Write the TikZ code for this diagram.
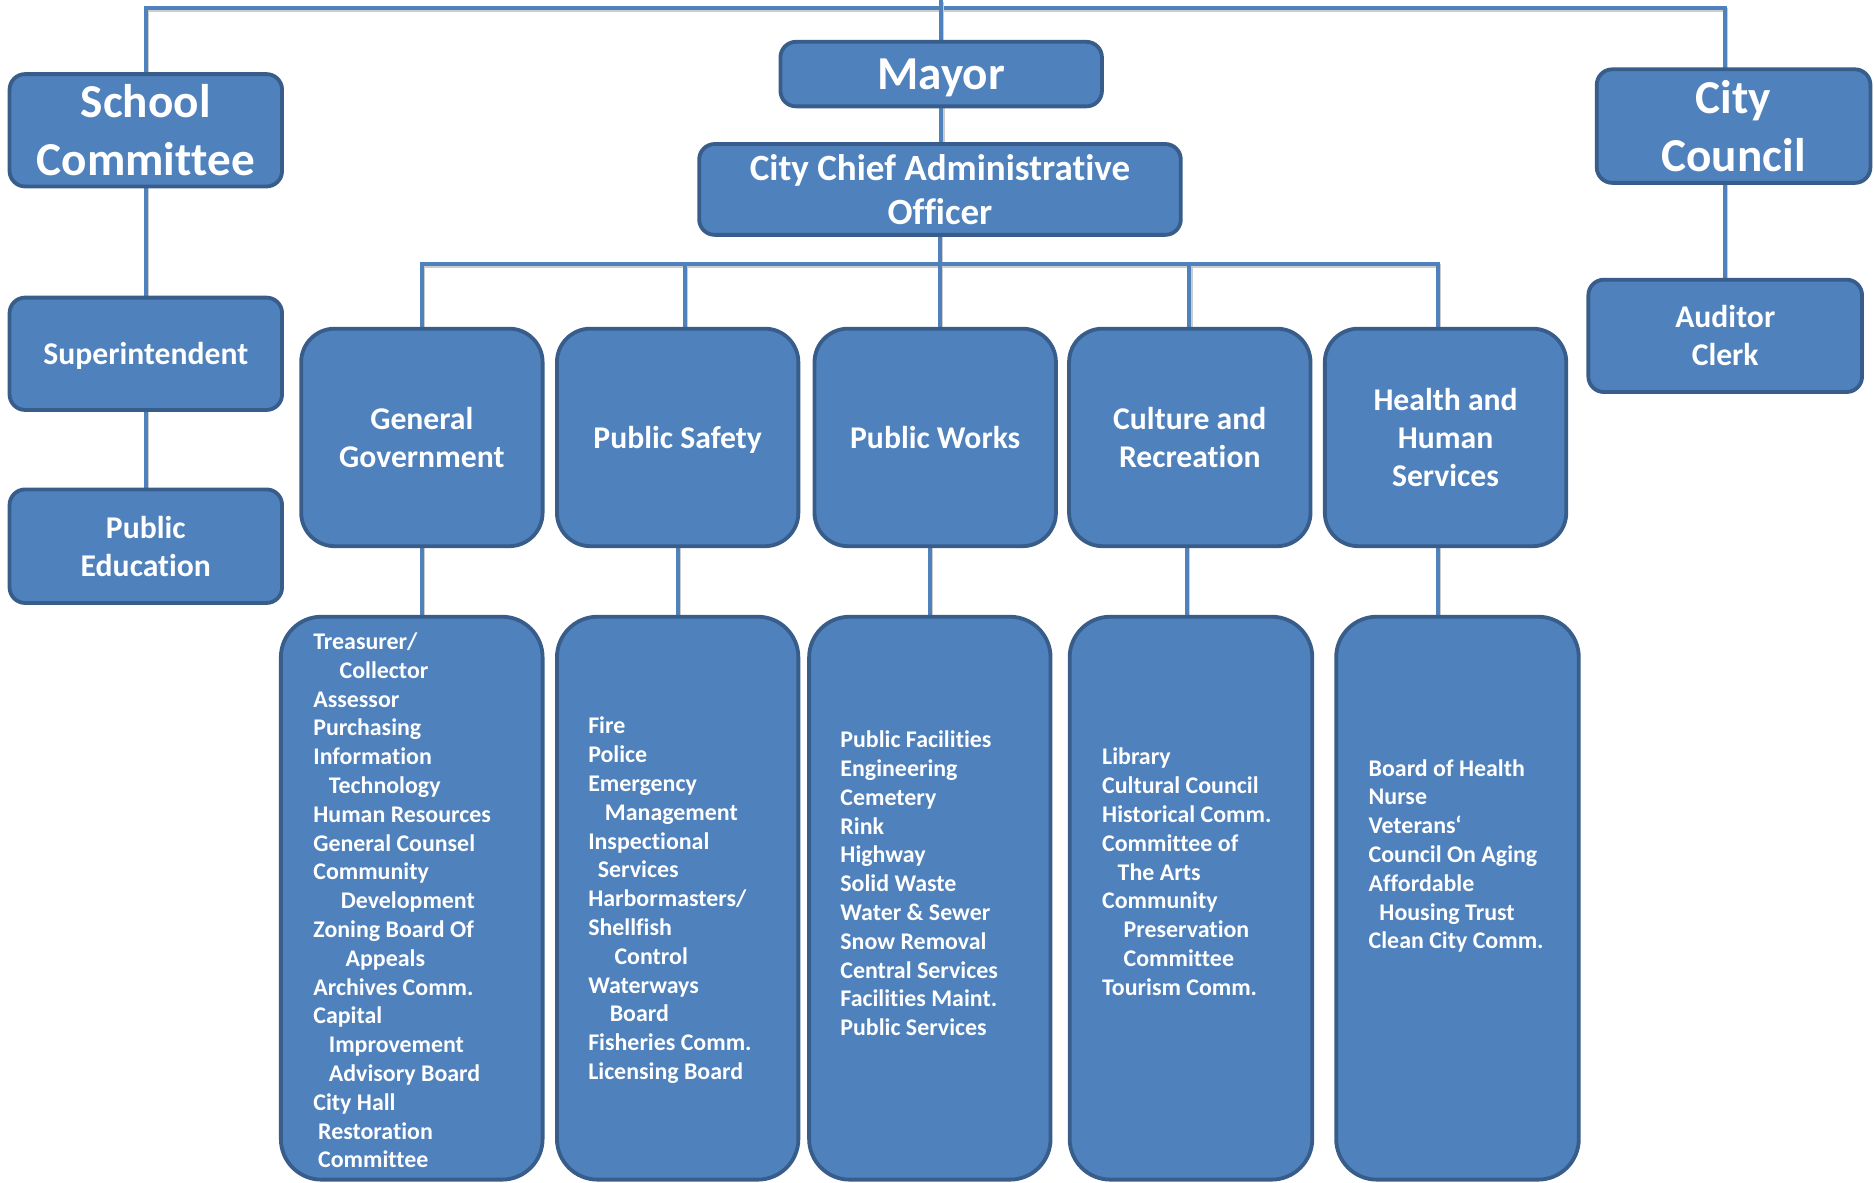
\documentclass[tikz,border=0pt]{standalone}
\usepackage{fontspec}
\setmainfont{Carlito}[Ligatures=NoCommon]
\definecolor{fillc}{HTML}{4F81BD}
\definecolor{bdr}{HTML}{385D8A}
\definecolor{linec}{HTML}{4F81BD}
\pgfdeclarelayer{bg}
\pgfsetlayers{bg,main}
\newcommand{\Lrow}[1]{\hbox{#1}}
\tikzset{
 box/.style={draw=bdr, fill=fillc, line width=3.2pt, text=white, align=center, inner sep=0pt, outer sep=0pt},
 bigbox/.style={box, rounded corners=13pt, font=\fontsize{39.5}{48}\selectfont\bfseries},
 midbox/.style={box, rounded corners=13pt, font=\fontsize{26.5}{32}\selectfont\bfseries},
 caobox/.style={box, rounded corners=13pt, font=\fontsize{31}{37}\selectfont\bfseries},
 catbox/.style={box, rounded corners=28pt, minimum width=202pt, minimum height=182pt, font=\fontsize{26.5}{32}\selectfont\bfseries},
 listbox/.style={box, rounded corners=34pt, minimum height=471pt},
 listtext/.style={text=white, font=\fontsize{20}{24.1}\selectfont\bfseries, inner sep=0pt, anchor=base west},
 conn/.style={draw=linec, line width=3.2pt, preaction={draw=black!20, line width=3.2pt, transform canvas={shift={(1.3pt,-1.3pt)}}}},
}
\begin{document}
\begin{tikzpicture}[x=1pt,y=-1pt]
\useasboundingbox (0,0) rectangle (1568,989);
% left column
\node[bigbox, minimum width=228pt, minimum height=94pt] (school) at (122,109) {School\\Committee};
\node[midbox, minimum width=228pt, minimum height=94pt, text depth=0pt] (supt) at (122,296) {Superintendent};
\node[midbox, minimum width=228pt, minimum height=95pt] (pubed) at (122,457) {Public\\Education};
% centre
\node[bigbox, minimum width=269pt, minimum height=54pt, text depth=0pt] (mayor) at (787.5,62) {Mayor};
\node[caobox, minimum width=403pt, minimum height=76pt] (cao) at (786.5,158.5) {City Chief Administrative\\Officer};
% right column
\node[bigbox, minimum width=229pt, minimum height=95pt] (council) at (1450.5,105.5) {City\\Council};
\node[midbox, minimum width=229pt, minimum height=94pt] (auditor) at (1443.5,281) {Auditor\\Clerk};
% categories
\node[catbox] (gg) at (353,366) {General\\Government};
\node[catbox, text depth=0pt] (ps) at (567,366) {Public Safety};
\node[catbox] (pw) at (782.5,366) {Public Works};
\node[catbox] (cr) at (995.5,366) {Culture and\\Recreation};
\node[catbox] (hh) at (1209.5,366) {Health and\\Human\\Services};
% lists
\node[listbox, minimum width=219pt] (l1) at (344.5,751.5) {};
\node[listbox, minimum width=202pt] (l2) at (567,751.5) {};
\node[listbox, minimum width=202pt] (l3) at (778,751.5) {};
\node[listbox, minimum width=203pt] (l4) at (996.5,751.5) {};
\node[listbox, minimum width=203pt] (l5) at (1219.5,751.5) {};
\node[listtext] (t1) at (262,543.4) {\vtop{\Lrow{Treasurer/}\Lrow{\hspace*{22pt}Collector}\Lrow{Assessor}\Lrow{Purchasing}\Lrow{Information}\Lrow{\hspace*{13pt}Technology}\Lrow{Human Resources}\Lrow{General Counsel}\Lrow{Community}\Lrow{\hspace*{23pt}Development}\Lrow{Zoning Board Of}\Lrow{\hspace*{27pt}Appeals}\Lrow{Archives Comm.}\Lrow{Capital}\Lrow{\hspace*{13pt}Improvement}\Lrow{\hspace*{13pt}Advisory Board}\Lrow{City Hall}\Lrow{\hspace*{4pt}Restoration}\Lrow{\hspace*{4pt}Committee}}};
\node[listtext] (t2) at (492,614) {\vtop{\Lrow{Fire}\Lrow{Police}\Lrow{Emergency}\Lrow{\hspace*{14pt}Management}\Lrow{Inspectional}\Lrow{\hspace*{8pt}Services}\Lrow{Harbormasters/}\Lrow{Shellfish}\Lrow{\hspace*{22pt}Control}\Lrow{Waterways}\Lrow{\hspace*{18pt}Board}\Lrow{Fisheries Comm.}\Lrow{Licensing Board}}};
\node[listtext] (t3) at (703,625.6) {\vtop{\Lrow{Public Facilities}\Lrow{Engineering}\Lrow{Cemetery}\Lrow{Rink}\Lrow{Highway}\Lrow{Solid Waste}\Lrow{Water \& Sewer}\Lrow{Snow Removal}\Lrow{Central Services}\Lrow{Facilities Maint.}\Lrow{Public Services}}};
\node[listtext] (t4) at (922,640) {\vtop{\Lrow{Library}\Lrow{Cultural Council}\Lrow{Historical Comm.}\Lrow{Committee of}\Lrow{\hspace*{13pt}The Arts}\Lrow{Community}\Lrow{\hspace*{18pt}Preservation}\Lrow{\hspace*{18pt}Committee}\Lrow{Tourism Comm.}}};
\node[listtext] (t5) at (1145,649.4) {\vtop{\Lrow{Board of Health}\Lrow{Nurse}\Lrow{Veterans‘}\Lrow{Council On Aging}\Lrow{Affordable}\Lrow{\hspace*{9pt}Housing Trust}\Lrow{Clean City Comm.}}};
% connectors
\coordinate (tl) at (122,7);
\coordinate (tr) at (1443,7);
\coordinate (tc) at (787,0);
\coordinate (bl) at (353,221);
\coordinate (br) at (1203,221);
\coordinate (psx) at (573,221);
\coordinate (pwx) at (786.5,221);
\coordinate (crx) at (995,221);
\begin{pgfonlayer}{bg}
\draw[conn] (school.north) -- (tl) -- (tr) -- (tr |- council.north);
\draw[conn] (tc) -- (tc |- mayor.north);
\draw[conn] (mayor.south) -- (mayor.south |- cao.north);
\draw[conn] (school.south) -- (supt.north);
\draw[conn] (supt.south) -- (pubed.north);
\draw[conn] (council.south -| tr) -- (tr |- auditor.north);
\draw[conn] (cao.south) -- (cao.south |- bl);
\draw[conn] (gg.north) -- (bl) -- (br) -- (br |- hh.north);
\draw[conn] (psx) -- (psx |- ps.north);
\draw[conn] (pwx) -- (pwx |- pw.north);
\draw[conn] (crx) -- (crx |- cr.north);
\draw[conn] (gg.south) -- (gg.south |- l1.north);
\draw[conn] (ps.south) -- (ps.south |- l2.north);
\draw[conn] (pw.south -| l3.north) -- (l3.north);
\draw[conn] (cr.south -| 993,0) -- (993,0 |- l4.north);
\draw[conn] (hh.south -| br) -- (br |- l5.north);
\end{pgfonlayer}
\end{tikzpicture}
\end{document}
